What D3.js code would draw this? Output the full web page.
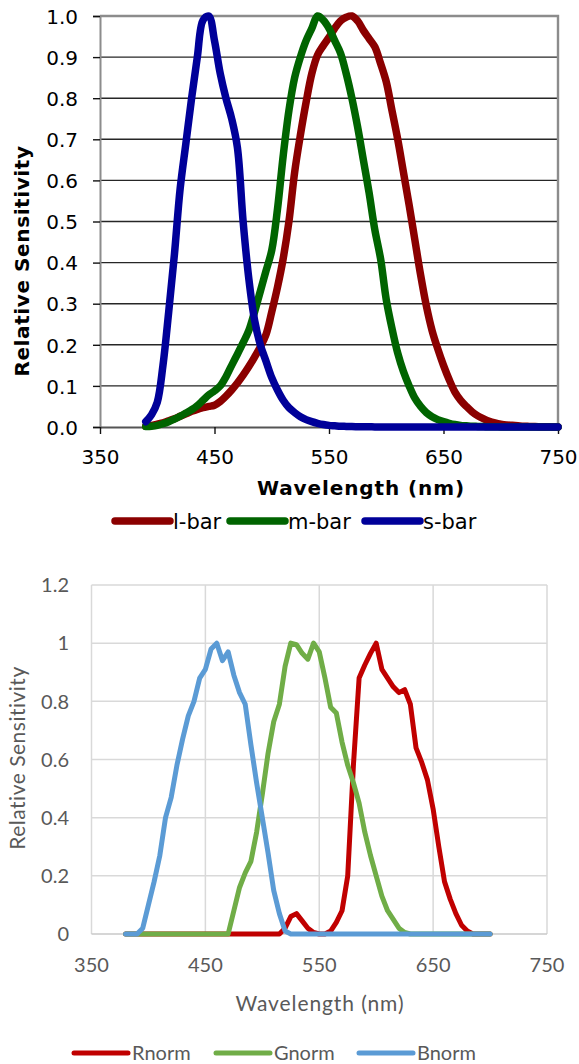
<!DOCTYPE html>
<html>
<head>
<meta charset="utf-8">
<script src="https://cdn.jsdelivr.net/npm/d3@7"></script>
<style>
  body { margin: 0; background: #fff; }
  svg { display: block; }
</style>
</head>
<body>
<div id="chartDiv"></div>
<script>
'use strict';

// ---- top chart: cone fundamentals ----
const wlTop = [390,395,400,405,410,415,420,425,430,435,440,445,450,455,460,465,470,475,480,485,
  490,495,500,505,510,515,520,525,530,535,540,545,550,555,560,565,570,575,580,585,
  590,595,600,605,610,615,620,625,630,635,640,645,650,655,660,665,670,675,680,685,
  690,695,700,705,710,715,720,725,730,735,740,745,750];

const lBar = [0.002,0.004,0.007,0.010,0.015,0.020,0.026,0.032,0.038,0.043,0.047,0.050,0.053,0.062,0.075,0.090,0.107,0.126,0.147,0.170,
  0.195,0.225,0.280,0.340,0.410,0.500,0.620,0.710,0.790,0.860,0.905,0.928,0.948,0.970,0.988,0.997,1.000,0.988,0.965,0.945,
  0.925,0.885,0.840,0.770,0.700,0.620,0.540,0.455,0.370,0.295,0.235,0.190,0.150,0.115,0.085,0.065,0.050,0.037,0.027,0.020,
  0.014,0.010,0.007,0.005,0.004,0.003,0.002,0.0015,0.001,0.0008,0.0005,0.0003,0.0002];

const mBar = [0.001,0.002,0.004,0.008,0.013,0.019,0.026,0.034,0.042,0.052,0.065,0.078,0.088,0.100,0.122,0.150,0.177,0.205,0.235,0.280,
  0.330,0.380,0.430,0.530,0.660,0.770,0.850,0.900,0.940,0.970,1.000,0.990,0.970,0.940,0.910,0.860,0.800,0.730,0.650,0.570,
  0.480,0.410,0.310,0.240,0.180,0.135,0.100,0.070,0.050,0.035,0.025,0.018,0.013,0.009,0.006,0.004,0.003,0.002,0.0015,0.001,
  0.0007,0.0005,0.0003,0.0002,0.0001,0,0,0,0,0,0,0,0];

const sBar = [0.013,0.030,0.060,0.150,0.280,0.420,0.580,0.690,0.800,0.900,0.990,1.000,0.940,0.860,0.800,0.750,0.680,0.500,0.360,0.260,
  0.200,0.160,0.120,0.090,0.065,0.047,0.035,0.025,0.018,0.013,0.009,0.006,0.004,0.003,0.002,0.0015,0.001,0.0008,0.0006,0.0004,
  0.0003,0.0002,0.0001,0,0,0,0,0,0,0,0,0,0,0,0,0,0,0,0,0,
  0,0,0,0,0,0,0,0,0,0,0,0,0];

const topSeries = [
  { name: 'l-bar', values: lBar, color: '#8b0000' },
  { name: 'm-bar', values: mBar, color: '#006400' },
  { name: 's-bar', values: sBar, color: '#000099' }
];
const topXTicks = [350, 450, 550, 650, 750];
const topYTicks = [0, 0.1, 0.2, 0.3, 0.4, 0.5, 0.6, 0.7, 0.8, 0.9, 1.0];

// ---- bottom chart: normalised camera channels ----
const wlBottom = [380,385,390,395,400,405,410,415,420,425,430,435,440,445,450,455,460,465,470,475,
  480,485,490,495,500,505,510,515,520,525,530,535,540,545,550,555,560,565,570,575,
  580,585,590,595,600,605,610,615,620,625,630,635,640,645,650,655,660,665,670,675,
  680,685,690,695,700];

const rNorm = [0,0,0,0,0,0,0,0,0,0,0,0,0,0,0,0,0,0,0,0,
  0,0,0,0,0,0,0,0,0.02,0.06,0.07,0.045,0.02,0.005,0,0,0.01,0.04,0.08,0.20,
  0.58,0.88,0.925,0.965,1.0,0.91,0.88,0.85,0.83,0.84,0.79,0.64,0.59,0.53,0.43,0.30,0.18,0.12,0.07,0.03,
  0.01,0,0,0,0];

const gNorm = [0,0,0,0,0,0,0,0,0,0,0,0,0,0,0,0,0,0,0,0.08,
  0.16,0.21,0.25,0.35,0.48,0.62,0.73,0.79,0.92,1.0,0.995,0.965,0.945,1.0,0.97,0.88,0.78,0.76,0.66,0.58,
  0.52,0.45,0.35,0.27,0.20,0.13,0.08,0.05,0.02,0.005,0,0,0,0,0,0,0,0,0,0,
  0,0,0,0,0];

const bNorm = [0,0,0,0.02,0.10,0.18,0.27,0.40,0.47,0.58,0.67,0.75,0.80,0.88,0.91,0.98,1.0,0.94,0.97,0.89,
  0.83,0.79,0.65,0.52,0.40,0.28,0.15,0.07,0.01,0,0,0,0,0,0,0,0,0,0,0,
  0,0,0,0,0,0,0,0,0,0,0,0,0,0,0,0,0,0,0,0,
  0,0,0,0,0];

const bottomSeries = [
  { name: 'Rnorm', values: rNorm, color: '#c00000' },
  { name: 'Gnorm', values: gNorm, color: '#70ad47' },
  { name: 'Bnorm', values: bNorm, color: '#5b9bd5' }
];
const bottomXTicks = [350, 450, 550, 650, 750];
const bottomYTicks = [0, 0.2, 0.4, 0.6, 0.8, 1.0, 1.2];

const W = 579, H = 1064;

const svg = d3.select('#chartDiv').append('svg')
  .attr('width', W)
  .attr('height', H);

// ================= top chart =================
const TopChart = function(){
  const left = 100, right = 558, top = 16, bottom = 427;
  const font = "'DejaVu Sans', Verdana, sans-serif";

  const x = d3.scaleLinear().domain([350, 750]).range([left, right]);
  const y = d3.scaleLinear().domain([0, 1]).range([bottom, top]);

  const g = svg.append('g');

  // horizontal gridlines
  g.append('g')
    .selectAll('line')
    .data(topYTicks.filter(d => d > 0 && d < 1))
    .join('line')
    .attr('x1', left).attr('x2', right)
    .attr('y1', d => y(d)).attr('y2', d => y(d))
    .attr('stroke', '#262626')
    .attr('stroke-width', 1.4);

  // plot border (top / right)
  g.append('path')
    .attr('d', `M${left},${top}H${right}V${bottom}`)
    .attr('fill', 'none')
    .attr('stroke', '#8c8c8c')
    .attr('stroke-width', 2.4);

  // y axis
  const yAxis = g.append('g')
    .attr('transform', `translate(${left},0)`)
    .call(d3.axisLeft(y).tickValues(topYTicks).tickFormat(d3.format('.1f')).tickSize(7).tickPadding(15));
  yAxis.select('.domain').attr('stroke', '#8c8c8c').attr('stroke-width', 2);
  yAxis.selectAll('.tick line').attr('stroke', '#111').attr('stroke-width', 1.4);
  yAxis.selectAll('text')
    .attr('font-family', font).attr('font-size', 20).attr('fill', '#000')
    .attr('dy', '0.36em');

  // x axis
  const xAxis = g.append('g')
    .attr('transform', `translate(0,${bottom})`)
    .call(d3.axisBottom(x).tickValues(topXTicks).tickSize(7).tickSizeOuter(0));
  xAxis.select('.domain').attr('stroke', '#555').attr('stroke-width', 2);
  xAxis.selectAll('.tick line').attr('stroke', '#111').attr('stroke-width', 1.4);
  xAxis.selectAll('text')
    .attr('font-family', font).attr('font-size', 20).attr('fill', '#000')
    .attr('y', 37).attr('dy', 0);

  // series
  const line = d3.line()
    .x((d, i) => x(wlTop[i]))
    .y(d => y(d))
    .curve(d3.curveCatmullRom.alpha(0.5));

  g.append('g')
    .selectAll('path')
    .data(topSeries)
    .join('path')
    .attr('d', d => line(d.values))
    .attr('fill', 'none')
    .attr('stroke', d => d.color)
    .attr('stroke-width', 7.5)
    .attr('stroke-linejoin', 'round')
    .attr('stroke-linecap', 'round');

  // axis titles
  g.append('text')
    .attr('x', 361).attr('y', 495)
    .attr('text-anchor', 'middle')
    .attr('font-family', font).attr('font-size', 20).attr('font-weight', 'bold')
    .attr('letter-spacing', 0.9)
    .text('Wavelength (nm)');

  g.append('text')
    .attr('transform', 'translate(29,261) rotate(-90)')
    .attr('text-anchor', 'middle')
    .attr('font-family', font).attr('font-size', 20).attr('font-weight', 'bold')
    .attr('letter-spacing', 0.6)
    .text('Relative Sensitivity');

  // legend
  const legendX = [115, 230, 365];
  const lg = g.append('g')
    .selectAll('g')
    .data(topSeries)
    .join('g')
    .attr('transform', (d, i) => `translate(${legendX[i]},521)`);
  lg.append('line')
    .attr('x1', 0).attr('x2', 55)
    .attr('stroke', d => d.color)
    .attr('stroke-width', 7.5)
    .attr('stroke-linecap', 'round');
  lg.append('text')
    .attr('x', 58).attr('dy', '0.36em')
    .attr('font-family', font).attr('font-size', 21).attr('fill', '#000')
    .text(d => d.name);
};

// ================= bottom chart =================
const BottomChart = function(){
  const left = 91.5, right = 547, top = 585, bottom = 934;
  const font = "Lato, 'Open Sans', sans-serif";
  const textColor = '#595959';
  const gridColor = '#d9d9d9';

  const x = d3.scaleLinear().domain([350, 750]).range([left, right]);
  const y = d3.scaleLinear().domain([0, 1.2]).range([bottom, top]);

  const g = svg.append('g');

  // gridlines
  g.append('g')
    .selectAll('line')
    .data(bottomXTicks)
    .join('line')
    .attr('x1', d => x(d)).attr('x2', d => x(d))
    .attr('y1', top).attr('y2', bottom)
    .attr('stroke', gridColor).attr('stroke-width', 1.5);

  g.append('g')
    .selectAll('line')
    .data(bottomYTicks)
    .join('line')
    .attr('x1', left).attr('x2', right)
    .attr('y1', d => y(d)).attr('y2', d => y(d))
    .attr('stroke', d => d === 0 ? '#c8c8c8' : gridColor)
    .attr('stroke-width', 1.5);

  // tick labels
  g.append('g')
    .selectAll('text')
    .data(bottomYTicks)
    .join('text')
    .attr('x', 69).attr('y', d => y(d))
    .attr('dy', '0.36em')
    .attr('text-anchor', 'end')
    .attr('font-family', font).attr('font-size', 20).attr('fill', textColor)
    .text(d => d3.format('~g')(d));

  g.append('g')
    .selectAll('text')
    .data(bottomXTicks)
    .join('text')
    .attr('x', d => x(d)).attr('y', 965)
    .attr('dy', '0.36em')
    .attr('text-anchor', 'middle')
    .attr('font-family', font).attr('font-size', 20).attr('fill', textColor)
    .text(d => d);

  // series
  const line = d3.line()
    .x((d, i) => x(wlBottom[i]))
    .y(d => y(d));

  g.append('g')
    .selectAll('path')
    .data(bottomSeries)
    .join('path')
    .attr('d', d => line(d.values))
    .attr('fill', 'none')
    .attr('stroke', d => d.color)
    .attr('stroke-width', 5)
    .attr('stroke-linejoin', 'round')
    .attr('stroke-linecap', 'round');

  // axis titles
  g.append('text')
    .attr('x', 320).attr('y', 1003).attr('dy', '0.36em')
    .attr('text-anchor', 'middle')
    .attr('font-family', font).attr('font-size', 21).attr('fill', textColor)
    .attr('letter-spacing', 0.9)
    .text('Wavelength (nm)');

  g.append('text')
    .attr('transform', 'translate(17,758) rotate(-90)')
    .attr('dy', '0.36em')
    .attr('text-anchor', 'middle')
    .attr('font-family', font).attr('font-size', 21).attr('fill', textColor)
    .attr('letter-spacing', 0.5)
    .text('Relative Sensitivity');

  // legend
  const legendX = [74, 216, 359];
  const lg = g.append('g')
    .selectAll('g')
    .data(bottomSeries)
    .join('g')
    .attr('transform', (d, i) => `translate(${legendX[i]},1053)`);
  lg.append('line')
    .attr('x1', 0).attr('x2', 54)
    .attr('stroke', d => d.color)
    .attr('stroke-width', 5)
    .attr('stroke-linecap', 'round');
  lg.append('text')
    .attr('x', 58).attr('dy', '0.36em')
    .attr('font-family', font).attr('font-size', 20).attr('fill', textColor)
    .text(d => d.name);
};

new TopChart();
new BottomChart();
</script>
</body>
</html>
